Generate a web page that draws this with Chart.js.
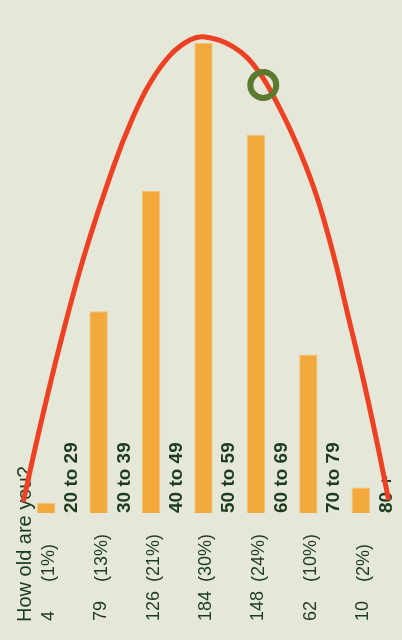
<!DOCTYPE html>
<html>
<head>
<meta charset="utf-8">
<script src="https://cdn.jsdelivr.net/npm/chart.js@4"></script>
<style>
	html, body { margin: 0; padding: 0; background: #e5e7d9; }
	#box { width: 402px; height: 640px; position: relative; }
</style>
</head>
<body>
<div id="box"><canvas id="idades"></canvas></div>
<script>
const ages = ['20 to 29', '30 to 39', '40 to 49', '50 to 59', '60 to 69', '70 to 79', '80 +'];
const counts = [4, 79, 126, 184, 148, 62, 10];
const shares = ['(1%)', '(13%)', '(21%)', '(30%)', '(24%)', '(10%)', '(2%)'];
const question = 'How old are you?';

// curva vermelha (x em posição de categoria)
const curveX = [-0.44, -0.11, 0.27, 0.74, 1.28, 1.64, 1.98, 2.37, 2.75, 3.03, 3.57, 4.03, 4.47, 4.85, 5.17, 5.48, 5.74, 6.05, 6.32, 6.53];
const curveY = [4.3, 34.4, 66.5, 101.8, 135.4, 154.2, 168.3, 179.3, 185.2, 186.3, 182.4, 173.4, 157.8, 140.9, 123.3, 101.0, 78.7, 52.1, 26.6, 5.1];

const markX = [4.14];
const markY = [167.5];

(() => {

	const corTexto = '#1c3b1f';
	const fonte = '"Liberation Sans", Arial, Helvetica, sans-serif';

	const textoVertical = (ctx, texto, x, y, font) => {
		ctx.save();
		ctx.translate(x, y);
		ctx.rotate(-Math.PI / 2);
		ctx.font = font;
		ctx.fillStyle = corTexto;
		ctx.textAlign = 'left';
		ctx.textBaseline = 'middle';
		ctx.fillText(texto, 0, 0);
		ctx.restore();
	};

	const rotulos = {
		id: 'rotulos',
		beforeDatasetsDraw(chart) {
			const ctx = chart.ctx;
			const x = chart.scales.x;
			const y = chart.scales.y;
			const base = y.getPixelForValue(0);
			const passo = x.getPixelForValue(1) - x.getPixelForValue(0);

			textoVertical(ctx, question, x.getPixelForValue(0) - 21, 622, '20px ' + fonte);

			counts.forEach((valor, i) => {
				const cx = x.getPixelForValue(i);
				textoVertical(ctx, String(valor), cx + 2.5, 621, '18px ' + fonte);
				textoVertical(ctx, shares[i], cx + 3, 582, '18px ' + fonte);
				textoVertical(ctx, ages[i], cx + passo / 2 - 0.5, base, 'bold 19px ' + fonte);
			});
		}
	};

	new Chart('idades', {
		type: 'bar',
		data: {
			labels: ages,
			datasets: [{
				type: 'line',
				data: markX.map((v, i) => ({ x: v, y: markY[i] })),
				xAxisID: 'xc',
				showLine: false,
				pointRadius: 13,
				pointHoverRadius: 13,
				pointBorderWidth: 6,
				pointBackgroundColor: 'rgba(0,0,0,0)',
				pointBorderColor: '#5b7a2f',
				clip: false,
				order: 0
			}, {
				type: 'line',
				data: curveX.map((v, i) => ({ x: v, y: curveY[i] })),
				xAxisID: 'xc',
				borderColor: '#ee4123',
				borderWidth: 5,
				pointRadius: 0,
				tension: 0.4,
				fill: false,
				clip: false,
				order: 1
			}, {
				data: counts,
				backgroundColor: '#f2a83a',
				borderColor: '#f5c173',
				borderWidth: 1,
				barPercentage: 0.35,
				categoryPercentage: 1,
				grouped: false,
				order: 2
			}]
		},
		options: {
			responsive: true,
			maintainAspectRatio: false,
			animation: false,
			layout: {
				autoPadding: false,
				padding: { left: 20, right: 15, top: 2, bottom: 127 }
			},
			plugins: {
				legend: { display: false },
				tooltip: { enabled: false },
				title: { display: false }
			},
			scales: {
				x: { display: false, offset: true },
				xc: { type: 'linear', display: false, offset: false, min: -0.5, max: 6.5 },
				y: { display: false, min: 0, max: 200 }
			}
		},
		plugins: [rotulos]
	});
})();
</script>
</body>
</html>
